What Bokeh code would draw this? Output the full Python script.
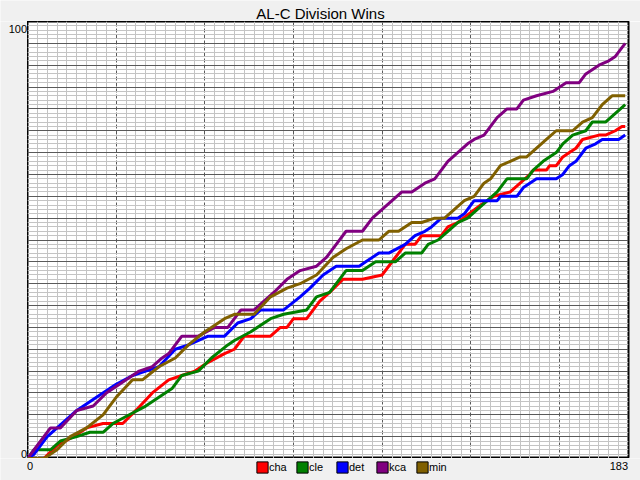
from bokeh.plotting import figure
from bokeh.layouts import column, row
from bokeh.models import Range1d, FixedTicker, Label, Legend, LegendItem
from bokeh.embed import file_html
from bokeh.resources import INLINE

# ---------------- data ----------------
title_text = "AL-C Division Wins"
teams = ["cha", "cle", "det", "kca", "min"]
team_colors = ["#ff0000", "#008000", "#0000ff", "#800080", "#806000"]

cha_days = [0, 5, 9, 14, 18, 23, 29, 33, 38, 43, 47, 51, 55, 60, 63, 66, 74, 77, 79, 81, 85, 89,
            92, 96, 102, 108, 112, 115, 118, 120, 126, 128, 131, 138, 142, 147, 153, 154, 158,
            159, 161, 163, 165, 167, 169, 174, 176, 179, 181, 182]
cha_wins = [0, 0, 3, 5, 7, 8, 8, 11, 15, 18, 19, 20, 22, 24, 25, 28, 28, 30, 30, 32, 32, 36,
            38, 41, 41, 42, 46, 49, 49, 51, 51, 53, 54, 58, 60, 61, 65, 66, 66,
            67, 67, 69, 70, 71, 73, 74, 74, 75, 76, 76]

cle_days = [0, 2, 7, 10, 15, 19, 23, 26, 31, 36, 40, 44, 47, 52, 56, 61, 63, 68, 74, 78, 85, 88,
            92, 95, 97, 102, 106, 112, 115, 120, 122, 125, 128, 131, 134, 137, 140, 143, 146,
            149, 152, 154, 157, 161, 163, 166, 170, 172, 176, 179, 182]
cle_wins = [0, 2, 2, 4, 5, 6, 6, 8, 10, 12, 14, 16, 19, 20, 23, 26, 27, 29, 32, 33, 34, 37,
            38, 41, 43, 43, 45, 45, 47, 47, 49, 50, 52, 54, 55, 57, 59, 61, 64,
            64, 64, 66, 68, 70, 72, 74, 75, 77, 77, 79, 81]

det_days = [0, 2, 6, 9, 15, 21, 27, 32, 36, 40, 45, 49, 55, 60, 64, 68, 71, 78, 83, 86, 90, 94,
            101, 103, 107, 110, 115, 118, 121, 123, 126, 131, 133, 136, 143, 144, 149, 151, 155,
            161, 163, 165, 167, 170, 173, 175, 180, 182]
det_wins = [0, 1, 5, 7, 11, 14, 17, 19, 20, 21, 25, 26, 28, 28, 31, 32, 34, 34, 37, 39, 42, 44,
            44, 45, 47, 47, 49, 51, 52, 53, 55, 55, 56, 59, 59, 60, 60, 62, 64,
            64, 65, 67, 68, 71, 72, 73, 73, 74]

kca_days = [0, 2, 7, 10, 15, 20, 24, 28, 34, 38, 41, 43, 47, 52, 57, 61, 65, 69, 75, 79, 83, 88,
            91, 94, 97, 102, 105, 108, 111, 114, 117, 121, 124, 128, 131, 134, 136, 139, 143,
            146, 149, 151, 155, 160, 164, 168, 170, 174, 177, 179, 181, 182]
kca_wins = [0, 2, 7, 7, 11, 12, 15, 17, 20, 21, 23, 24, 28, 28, 30, 30, 34, 34, 38, 41, 43, 44,
            46, 49, 52, 52, 55, 57, 59, 61, 61, 63, 64, 68, 70, 72, 73, 74, 78,
            80, 80, 82, 83, 84, 86, 86, 88, 90, 91, 92, 94, 95]

min_days = [0, 5, 9, 13, 18, 23, 27, 32, 35, 40, 45, 49, 54, 56, 60, 63, 69, 74, 79, 83, 88, 93,
            97, 102, 107, 110, 113, 117, 120, 124, 127, 130, 133, 136, 139, 141, 144, 147, 150,
            152, 155, 158, 161, 166, 169, 172, 175, 178, 182]
min_wins = [0, 0, 2, 5, 7, 10, 14, 18, 18, 21, 23, 26, 29, 30, 32, 33, 33, 37, 39, 40, 42, 46,
            48, 50, 50, 52, 52, 54, 54, 55, 55, 57, 59, 60, 63, 64, 67, 68, 69,
            69, 71, 73, 75, 75, 77, 78, 81, 83, 83]

series_days = [cha_days, cle_days, det_days, kca_days, min_days]
series_wins = [cha_wins, cle_wins, det_wins, kca_wins, min_wins]

x_ticks = [0, 183]
x_tick_labels = ["0", "183"]
y_ticks = [0, 100]
y_tick_labels = ["0", "100"]

# ---------------- page geometry (pixels) ----------------
W, H = 640, 480
BOX_L, BOX_R, BOX_T, BOX_B = 27, 628, 21, 458
FONT = "Liberation Sans"
BG = "#f0f0f0"
NAN = float("nan")
TXT_DY = 4      # alphabetic-baseline correction of Bokeh text (px)


def strip(w, h):
    """A plain grey figure whose frame covers it all; data units are pixels."""
    f = figure(width=w, height=h, x_range=Range1d(0, w), y_range=Range1d(0, h),
               x_axis_location=None, y_axis_location=None, toolbar_location=None,
               output_backend="svg", title=None,
               min_border_left=0, min_border_right=0, min_border_top=0, min_border_bottom=0)
    f.xgrid.visible = False
    f.ygrid.visible = False
    f.background_fill_color = BG
    f.border_fill_color = BG
    f.outline_line_color = None
    return f


# ---- title strip ----
pt = strip(W, BOX_T)
pt.add_layout(Label(x=320, y=BOX_T - (18 - 5), text=title_text, text_align="center",
                    text_baseline="alphabetic", text_font=FONT, text_font_size="15px",
                    text_color="black"))

# ---- y tick label strip ----
pl = strip(BOX_L, BOX_B - BOX_T)
lab = dict(text_baseline="alphabetic", text_font=FONT, text_font_size="11px",
           text_color="black")
pl.add_layout(Label(x=BOX_L - 0.5, y=BOX_B - (32 - TXT_DY), text=y_tick_labels[1],
                    text_align="right", **lab))
pl.add_layout(Label(x=BOX_L - 0.5, y=BOX_B - (457 - TXT_DY), text=y_tick_labels[0],
                    text_align="right", **lab))

# ---- main plot ----
pm = figure(width=W - BOX_L, height=BOX_B - BOX_T,
            x_range=Range1d(x_ticks[0], x_ticks[1]), y_range=Range1d(y_ticks[0], y_ticks[1]),
            x_axis_location=None, y_axis_location=None, toolbar_location=None,
            output_backend="svg", title=None,
            min_border_left=0, min_border_right=W - BOX_R, min_border_top=0, min_border_bottom=0)
pm.background_fill_color = "white"
pm.border_fill_color = BG
pm.outline_line_color = "black"
pm.outline_line_width = 2

pm.xgrid.ticker = FixedTicker(ticks=list(range(27, 183, 27)),
                              minor_ticks=[t for t in range(3, 183, 3) if t % 27])
pm.xgrid.grid_line_color = "#5a5a5a"
pm.xgrid.grid_line_dash = "4 2"
pm.xgrid.grid_line_width = 1
pm.xgrid.minor_grid_line_color = "#c4c4c4"
pm.xgrid.minor_grid_line_width = 1

pm.ygrid.ticker = FixedTicker(ticks=list(range(5, 100, 5)),
                              minor_ticks=[t for t in range(1, 100) if t % 5])
pm.ygrid.grid_line_color = "#5a5a5a"
pm.ygrid.grid_line_width = 1
pm.ygrid.minor_grid_line_color = "#c4c4c4"
pm.ygrid.minor_grid_line_width = 1

for d, w, c in zip(series_days, series_wins, team_colors):
    pm.line(d, w, line_color=c, line_width=3)

# ---- bottom strip: x tick labels + legend ----
pb = strip(W, H - BOX_B)
pb.add_layout(Label(x=BOX_L - 0.5, y=H - (469 - TXT_DY), text=x_tick_labels[0],
                    text_align="left", **lab))
pb.add_layout(Label(x=BOX_R - 0.5, y=H - (469 - TXT_DY), text=x_tick_labels[1],
                    text_align="right", **lab))
items = []
for t, c in zip(teams, team_colors):
    r = pb.quad(left=[NAN], right=[NAN], bottom=[NAN], top=[NAN], fill_color=c,
                line_color="black", line_width=1)
    items.append(LegendItem(label=t, renderers=[r]))
legend = Legend(items=items, orientation="horizontal", location=(255, 6),
                glyph_width=14, glyph_height=14, label_standoff=0, label_width=26,
                label_height=14, spacing=0, padding=0, margin=0,
                border_line_color=None, background_fill_alpha=0,
                label_text_font=FONT, label_text_font_size="11px",
                label_text_color="black")
pb.add_layout(legend)

layout = column(pt, row(pl, pm, spacing=0), pb, spacing=0)

open("out.html", "w").write(file_html(layout, INLINE))
